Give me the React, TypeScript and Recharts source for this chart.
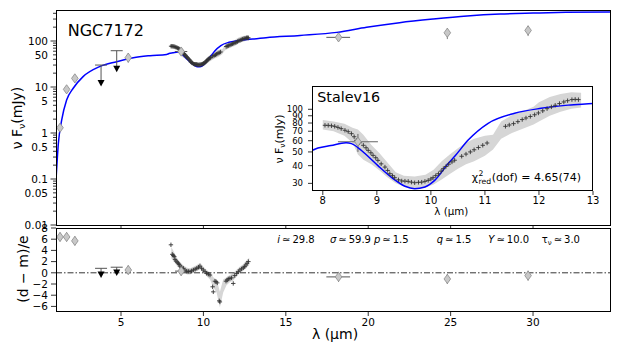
import React from 'react';
import { ComposedChart, Line, Scatter, Area, XAxis, YAxis, ErrorBar, ReferenceLine } from 'recharts';

const W = 623;
const H = 346;
const FONT = '"DejaVu Sans", sans-serif';

// ---------------- data ----------------
// model SED (blue line)
const modelLam = [1.06, 1.2, 1.4, 1.7, 2.1, 2.7, 3.7, 4.74, 5.75, 6.76, 7.77, 7.91, 8.15, 8.43, 8.53, 8.71, 8.78, 9.02, 9.3, 9.52, 9.7, 9.89, 10.07, 10.32, 10.45, 10.69, 11.06, 11.55, 12.04, 12.54, 13.0, 13.8, 15.86, 18.1, 19.9, 21.9, 23.95, 26.0, 28.0, 30.0, 32.0, 34.67];
const modelFlux = [0.1, 0.6, 1.9, 5.2, 9.4, 16.8, 27.7, 35.5, 43.4, 48, 51, 53.3, 55.5, 58, 57.2, 51.4, 48.7, 40, 32.4, 28.6, 27.5, 28.3, 31.5, 41.4, 47, 60.6, 79.6, 93.7, 101.6, 107, 110, 118, 132, 154, 198, 250, 300, 350, 386, 405, 420, 427];

// photometric points (diamonds)
const photLam = [1.3, 1.7, 2.2, 5.44, 8.65, 18.2, 24.8, 29.7];
const photFlux = [1.3, 8.9, 15.4, 43.4, 59, 120, 151, 170];
const photLo = [1.2, 8.2, 14.2, 34, 50, 100, 110, 128];
const photHi = [1.4, 9.6, 16.6, 54, 67, 140, 189, 215];
const photLamLo = [1.3, 1.7, 2.2, 5.44, 8.28, 17.46, 24.8, 29.7];
const photLamHi = [1.3, 1.7, 2.2, 5.44, 9.02, 18.9, 24.8, 29.7];
const photResid = [6.4, 6.4, 5.7, 0.5, 0.3, -0.73, -1.1, -0.5];
const photResidErr = [0.8, 0.8, 0.8, 0.8, 0.8, 0.9, 0.9, 0.9];

// upper limits
const ulLam = [3.79, 4.74];
const ulCap = [30, 61.5];
const ulArrow = [12.2, 25];
const ulResidCap = [0.8, 1.0];
const ulResidArrow = [-0.3, 0.05];

// Spitzer spectrum (Stalev16)
const specLam = [8.04, 8.10, 8.16, 8.22, 8.28, 8.34, 8.41, 8.47, 8.53, 8.58, 8.62, 8.68, 8.75, 8.80, 8.84, 8.89, 8.93, 8.98, 9.02, 9.08, 9.15, 9.20, 9.24, 9.29, 9.33, 9.40, 9.46, 9.52, 9.58, 9.64, 9.70, 9.77, 9.83, 9.89, 9.95, 10.00, 10.04, 10.09, 10.14, 10.19, 10.23, 10.28, 10.33, 10.39, 10.44, 10.57, 10.65, 10.73, 10.80, 10.88, 10.96, 11.04, 11.38, 11.45, 11.53, 11.61, 11.69, 11.76, 11.84, 11.92, 11.99, 12.07, 12.15, 12.23, 12.30, 12.38, 12.46, 12.53, 12.61, 12.67, 12.73];
const specFlux = [77.1, 77, 76.5, 75.8, 74.5, 73, 71.1, 69.5, 67.3, 64, 60.4, 58, 55.7, 53.5, 51.3, 49.3, 47.3, 45.5, 43.6, 41.2, 39.1, 37, 35.1, 34, 32.9, 31.8, 31.2, 31.1, 31, 30.6, 30.3, 30.5, 30.6, 31, 31.5, 32.2, 32.9, 34, 35.1, 36.6, 38.1, 39.5, 41, 42.5, 43.7, 46.6, 48.3, 50, 51.8, 53.7, 55.7, 57.8, 75.8, 77.5, 79.2, 81.8, 84.6, 86.8, 89, 91.5, 94.2, 97.5, 101, 104, 106.7, 109.8, 112.6, 115, 117, 117.5, 117];

// spectrum uncertainty band
const bandLam = [8.0, 8.2, 8.4, 8.55, 8.65, 8.75, 8.9, 9.05, 9.2, 9.35, 9.5, 9.7, 9.9, 10.05, 10.2, 10.35, 10.5, 10.65, 10.8, 11.0, 11.15, 11.3, 11.5, 11.7, 11.9, 12.0, 12.2, 12.4, 12.6, 12.78];
const bandLo = [72, 70, 65, 58, 48, 44, 41, 37, 33, 30, 28.5, 27.5, 28, 29.5, 32, 35, 38, 41, 43, 47, 52, 62, 68, 73, 78, 82, 90, 96, 101, 103];
const bandHi = [84, 82, 79, 74, 72, 66, 56, 49, 42, 36, 34, 33.5, 34.5, 37.5, 43, 48, 53, 58, 62, 65, 66, 82, 91, 97, 104, 112, 122, 128, 132, 131];

// spectrum residuals
const residLam = [8.03, 8.11, 8.17, 8.23, 8.28, 8.34, 8.41, 8.48, 8.53, 8.58, 8.68, 8.78, 8.88, 8.99, 9.09, 9.19, 9.29, 9.39, 9.50, 9.60, 9.70, 9.79, 9.89, 9.99, 10.10, 10.20, 10.30, 10.40, 10.56, 10.60, 10.70, 10.77, 10.84, 10.96, 11.00, 11.37, 11.44, 11.51, 11.61, 11.71, 11.81, 11.90, 12.02, 12.12, 12.22, 12.32, 12.42, 12.50, 12.58, 12.65, 12.73];
const residVal = [5.0, 3.3, 3.1, 2.9, 2.4, 2.1, 1.9, 1.7, 1.5, 1.2, 1.0, 0.8, 0.5, 0.3, 0.25, 0.2, 0.35, 0.5, 0.65, 0.8, 1.0, 1.2, 0.8, 0.5, 0.2, -0.1, -0.25, -0.4, -2.5, -3.4, -1.5, -1.6, -1.8, -5.0, -5.2, -1.5, -1.3, -1.1, -1.0, -0.9, -1.9, -0.5, -0.1, 0.2, 0.5, 0.7, 0.9, 1.1, 1.4, 1.7, 2.0];
const rBandLam = [8.05, 8.2, 8.4, 8.6, 8.8, 9.0, 9.2, 9.4, 9.6, 9.8, 10.0, 10.2, 10.4, 10.6, 10.8, 11.0, 11.2, 11.4, 11.6, 11.8, 12.0, 12.2, 12.4, 12.6, 12.78];
const rBandLo = [2.6, 2.0, 1.2, 0.6, 0.2, -0.3, -0.3, 0.0, 0.3, 0.6, 0.0, -0.6, -1.2, -2.6, -3.5, -6.2, -3.5, -2.2, -1.7, -1.4, -0.7, -0.1, 0.3, 0.8, 1.4];
const rBandHi = [4.6, 3.8, 2.6, 1.8, 1.3, 0.9, 0.8, 1.1, 1.4, 1.8, 1.1, 0.5, 0.1, -0.8, -1.2, -3.4, -1.2, -0.8, -0.4, -0.1, 0.5, 1.1, 1.5, 2.2, 2.7];

// axes ticks
const xTicks = [5, 10, 15, 20, 25, 30];
const mainYTicks = [0.01, 0.02, 0.03, 0.04, 0.05, 0.06, 0.07, 0.08, 0.09, 0.1, 0.2, 0.3, 0.4, 0.5, 0.6, 0.7, 0.8, 0.9, 1, 2, 3, 4, 5, 6, 7, 8, 9, 10, 20, 30, 40, 50, 60, 70, 80, 90, 100, 200, 300, 400];
const mainYLabels: Record<string, string> = { '0.01': '0.01', '0.05': '0.05', '0.1': '0.1', '0.5': '0.5', '1': '1', '5': '5', '10': '10', '50': '50', '100': '100' };
const mainYMajor = [0.01, 0.1, 1, 10, 100];
const residYTicks = [-6, -4, -2, 0, 2, 4, 6, 8];
const insetXTicks = [8, 9, 10, 11, 12, 13];
const insetYTicks = [30, 40, 50, 60, 70, 80, 90, 100];

const params = [
  { v: 'i', sub: '', val: '29.8' },
  { v: 'σ', sub: '', val: '59.9' },
  { v: 'p', sub: '', val: '1.5' },
  { v: 'q', sub: '', val: '1.5' },
  { v: 'Y', sub: '', val: '10.0' },
  { v: 'τ', sub: 'ν', val: '3.0' },
];
const paramX = [277.3, 330, 374, 436.7, 488.3, 541.7];

// ---------------- built tables ----------------
const INSET_X0 = 7.8;
const INSET_X1 = 13;
const pts = (xs: number[], ys: number[]) => xs.map((x, i) => ({ x, y: ys[i] }));
const modelData = pts(modelLam, modelFlux);
const specData = pts(specLam, specFlux);
const bandData = bandLam.map((x, i) => ({ x, band: [bandLo[i], bandHi[i]] }));
const photData = photLam.map((x, i) => ({
  x, y: photFlux[i],
  ey: [photFlux[i] - photLo[i], photHi[i] - photFlux[i]],
  ex: [x - photLamLo[i], photLamHi[i] - x],
}));
const insetPhotData = photData.filter((d) => d.x > INSET_X0 && d.x < INSET_X1);
const ulCapData = ulLam.map((x, i) => ({ x, y: ulCap[i], ey: [ulCap[i] - ulArrow[i], 0] }));
const ulArrowData = pts(ulLam, ulArrow);
const residSpecData = pts(residLam, residVal);
const rBandData = rBandLam.map((x, i) => ({ x, band: [rBandLo[i], rBandHi[i]] }));
const residPhotData = photLam.map((x, i) => ({
  x, y: photResid[i], ey: photResidErr[i], ex: [x - photLamLo[i], photLamHi[i] - x],
}));
const ulResCapData = ulLam.map((x, i) => ({ x, y: ulResidCap[i], ey: [ulResidCap[i] - ulResidArrow[i], 0] }));
const ulResArrowData = pts(ulLam, ulResidArrow);

// ---------------- shapes ----------------
const Cross = (p: any) => {
  const { cx, cy } = p;
  if (cx == null || cy == null) return null;
  return <path d={`M${cx - 2.2},${cy}H${cx + 2.2}M${cx},${cy - 2.2}V${cy + 2.2}`} stroke="#333" strokeWidth={0.9} fill="none" />;
};
const Diamond = (p: any) => {
  const { cx, cy } = p;
  if (cx == null || cy == null) return null;
  return <path d={`M${cx},${cy - 4.6}L${cx + 3.3},${cy}L${cx},${cy + 4.6}L${cx - 3.3},${cy}Z`} fill="#c8c8c8" stroke="#8a8a8a" strokeWidth={0.8} />;
};
const TriDown = (p: any) => {
  const { cx, cy } = p;
  if (cx == null || cy == null) return null;
  return <path d={`M${cx - 3.5},${cy - 3}L${cx + 3.5},${cy - 3}L${cx},${cy + 3.5}Z`} fill="#000" />;
};
const Cap = (p: any) => {
  const { cx, cy } = p;
  if (cx == null || cy == null) return null;
  return <line x1={cx - 6} x2={cx + 6} y1={cy} y2={cy} stroke="#555" strokeWidth={1} />;
};

// ---------------- ticks ----------------
const makeYTick = (labels: (v: number) => string | undefined, isMajor: (v: number) => boolean, len: number, minorLen: number, gap: number, fs: number) => (props: any) => {
  const { x, y, payload } = props;
  const v = payload.value;
  const lab = labels(v);
  const l = isMajor(v) ? len : minorLen;
  return (
    <g>
      <line x1={x} x2={x - l} y1={y} y2={y} stroke="#000" strokeWidth={0.8} />
      {lab !== undefined && (
        <text x={x - gap} y={y} dy="0.36em" textAnchor="end" fontSize={fs} fontFamily={FONT} fill="#000">{lab}</text>
      )}
    </g>
  );
};
const makeXTick = (showLabel: boolean, len: number, base: number, fs: number) => (props: any) => {
  const { x, y, payload } = props;
  return (
    <g>
      <line x1={x} x2={x} y1={y} y2={y + len} stroke="#000" strokeWidth={0.8} />
      {showLabel && (
        <text x={x} y={y + base} textAnchor="middle" fontSize={fs} fontFamily={FONT} fill="#000">{String(payload.value)}</text>
      )}
    </g>
  );
};
const minus = (v: number) => (v < 0 ? '\u2212' + String(-v) : String(v));

const MainYTick = makeYTick((v) => mainYLabels[String(v)], (v) => mainYMajor.includes(v), 5.5, 3, 8, 10.5);
const ResidYTick = makeYTick((v) => minus(v), () => true, 5, 3, 8, 10.5);
const InsetYTick = makeYTick((v) => String(v), () => true, 4, 4, 9, 8.5);
const MainXTick = makeXTick(false, 4, 0, 10.5);
const ResidXTick = makeXTick(true, 5, 15, 10.5);
const InsetXTick = makeXTick(true, 4, 13.3, 10);

const X0 = 1.056;
const X1 = 34.67;

const axisCommon = { axisLine: false, tickLine: false, tickSize: 0, tickMargin: 0, interval: 0 as const, allowDataOverflow: true };

const abs = (l: number, t: number, w: number, h: number, extra: React.CSSProperties = {}): React.CSSProperties => ({ position: 'absolute', left: l, top: t, width: w, height: h, boxSizing: 'border-box', ...extra });

const TS = '\u2009';

export default function App() {
  return (
    <div style={{ position: 'absolute', left: 0, top: 0, width: W, height: H, background: '#fff', overflow: 'hidden', fontFamily: FONT }}>
      {/* main SED panel */}
      <div style={abs(0, 0, W, H)}>
        <ComposedChart width={W} height={H} margin={{ top: 10, right: 13, bottom: 116, left: 0 }}>
          <XAxis type="number" dataKey="x" domain={[X0, X1]} ticks={xTicks} height={5} tick={MainXTick} {...axisCommon} />
          <YAxis type="number" dataKey="y" scale="log" domain={[0.01, 472]} ticks={mainYTicks} width={56} tick={MainYTick} {...axisCommon} />
          <Area data={bandData} dataKey="band" type="linear" stroke="none" fill="#d6d6d6" fillOpacity={1} isAnimationActive={false} />
          <Line data={modelData} dataKey="y" type="monotone" stroke="#0000ff" strokeWidth={1.5} dot={false} isAnimationActive={false} />
          <Scatter data={specData} shape={Cross} isAnimationActive={false} />
          <Scatter data={ulCapData} shape={Cap} isAnimationActive={false}>
            <ErrorBar dataKey="ey" direction="y" width={0} stroke="#555" strokeWidth={1} />
          </Scatter>
          <Scatter data={ulArrowData} shape={TriDown} isAnimationActive={false} />
          <Scatter data={photData} shape={Diamond} isAnimationActive={false}>
            <ErrorBar dataKey="ey" direction="y" width={0} stroke="#808080" strokeWidth={1} />
            <ErrorBar dataKey="ex" direction="x" width={0} stroke="#555" strokeWidth={1} />
          </Scatter>
        </ComposedChart>
      </div>

      {/* residual panel */}
      <div style={abs(0, 0, W, H)}>
        <ComposedChart width={W} height={H} margin={{ top: 228, right: 13, bottom: 5, left: 0 }}>
          <XAxis type="number" dataKey="x" domain={[X0, X1]} ticks={xTicks} height={30} tick={ResidXTick} {...axisCommon} />
          <YAxis type="number" dataKey="y" domain={[-6.82, 8]} ticks={residYTicks} width={56} tick={ResidYTick} {...axisCommon} />
          <ReferenceLine y={0} stroke="#000" strokeWidth={0.8} strokeDasharray="6 2 1.5 2" />
          <Area data={rBandData} dataKey="band" type="linear" stroke="none" fill="#d6d6d6" fillOpacity={1} isAnimationActive={false} />
          <Scatter data={residSpecData} shape={Cross} isAnimationActive={false} />
          <Scatter data={ulResCapData} shape={Cap} isAnimationActive={false}>
            <ErrorBar dataKey="ey" direction="y" width={0} stroke="#555" strokeWidth={1} />
          </Scatter>
          <Scatter data={ulResArrowData} shape={TriDown} isAnimationActive={false} />
          <Scatter data={residPhotData} shape={Diamond} isAnimationActive={false}>
            <ErrorBar dataKey="ey" direction="y" width={0} stroke="#808080" strokeWidth={1} />
            <ErrorBar dataKey="ex" direction="x" width={0} stroke="#555" strokeWidth={1} />
          </Scatter>
        </ComposedChart>
      </div>

      {/* inset background */}
      <div style={abs(312, 86, 281, 105, { background: '#fff' })} />

      {/* inset panel */}
      <div style={abs(0, 0, W, H)}>
        <ComposedChart width={W} height={H} margin={{ top: 86, right: 30, bottom: 135, left: 0 }}>
          <XAxis type="number" dataKey="x" domain={[INSET_X0, INSET_X1]} ticks={insetXTicks} height={20} tick={InsetXTick} {...axisCommon} />
          <YAxis type="number" dataKey="y" scale="log" domain={[26.5, 146]} ticks={insetYTicks} width={312} tick={InsetYTick} {...axisCommon} />
          <Area data={bandData} dataKey="band" type="linear" stroke="none" fill="#d6d6d6" fillOpacity={1} isAnimationActive={false} />
          <Scatter data={specData} shape={Cross} isAnimationActive={false} />
          <Scatter data={insetPhotData} shape={Diamond} isAnimationActive={false}>
            <ErrorBar dataKey="ey" direction="y" width={0} stroke="#666" strokeWidth={1} />
            <ErrorBar dataKey="ex" direction="x" width={0} stroke="#666" strokeWidth={1} />
          </Scatter>
          <Line data={modelData} dataKey="y" type="monotone" stroke="#0000ff" strokeWidth={1.5} dot={false} isAnimationActive={false} />
        </ComposedChart>
      </div>

      {/* frames */}
      <div style={abs(56, 10, 555, 216, { border: '1px solid #000' })} />
      <div style={abs(56, 228, 555, 84, { border: '1px solid #000' })} />
      <div style={abs(312, 86, 281, 105, { border: '1px solid #000' })} />

      {/* text annotations */}
      <svg width={W} height={H} style={{ position: 'absolute', left: 0, top: 0, pointerEvents: 'none' }} fontFamily={FONT}>
        <text x={67.7} y={35.5} fontSize={16} fill="#000">NGC7172</text>
        <text transform="translate(21.5,118) rotate(-90)" textAnchor="middle" fontSize={14} fill="#000">
          ν F<tspan fontSize={9.5} dy={3}>ν</tspan><tspan dy={-3}>(mJy)</tspan>
        </text>
        <text transform="translate(28,269) rotate(-90)" textAnchor="middle" fontSize={14} fill="#000">(d − m)/e</text>
        <text x={335} y={339} textAnchor="middle" fontSize={14} fill="#000">λ (μm)</text>

        <text x={317.3} y={101.5} fontSize={14.3} fill="#000">Stalev16</text>
        <text x={451.3} y={214.5} textAnchor="middle" fontSize={10.3} fill="#000">λ (μm)</text>
        <text transform="translate(283,139) rotate(-90)" textAnchor="middle" fontSize={11} fill="#000">
          ν F<tspan fontSize={7.5} dy={2.4}>ν</tspan><tspan dy={-2.4}>(mJy)</tspan>
        </text>
        <text x={471.7} y={180.7} fontSize={11} fill="#000">χ</text>
        <text x={478.5} y={176} fontSize={7.7} fill="#000">2</text>
        <text x={478.5} y={183.5} fontSize={7.7} fill="#000">red</text>
        <text x={491.7} y={180.7} fontSize={11} fill="#000">(dof) = 4.65(74)</text>

        {params.map((p, i) => (
          <text key={i} x={paramX[i]} y={242.5} fontSize={10} fill="#000">
            <tspan fontStyle={p.v === 'τ' ? 'normal' : 'italic'}>{p.v}</tspan>
            {p.sub ? <tspan fontSize={7} dy={2.5}>{p.sub}</tspan> : null}
            <tspan dy={p.sub ? -2.5 : 0}>{TS + '≃' + TS + p.val}</tspan>
          </text>
        ))}
      </svg>
    </div>
  );
}
